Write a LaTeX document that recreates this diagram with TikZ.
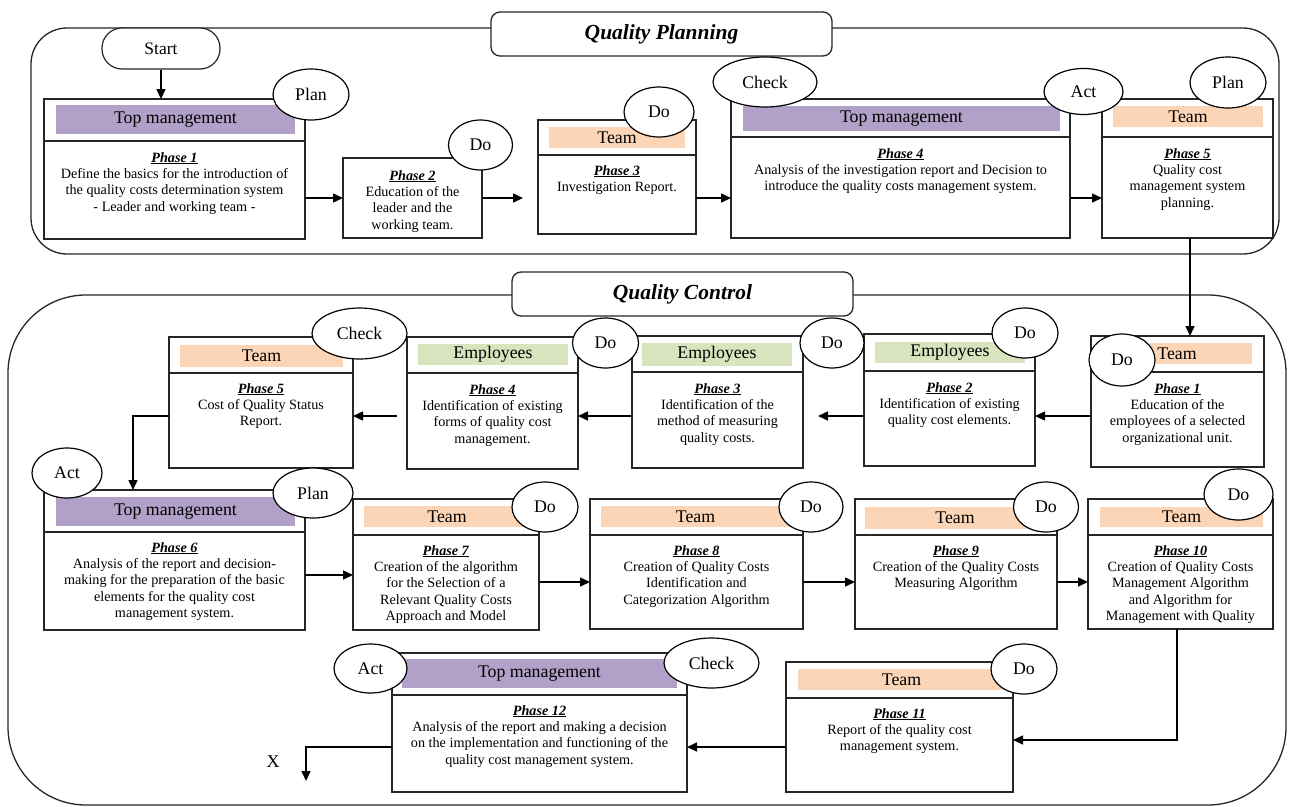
\documentclass[tikz,border=0pt]{standalone}
\usepackage{fontspec}
\setmainfont{Liberation Serif}
\usetikzlibrary{shapes.geometric,arrows.meta}
\definecolor{mgmtc}{HTML}{B1A0C7}
\definecolor{teamc}{HTML}{FBD5B5}
\definecolor{emplc}{HTML}{D7E4BD}
\newcommand{\phs}[1]{\underline{\textbf{\textit{#1}}}}
% name, x1, y1, x2, y2
\newcommand{\pbx}[5]{\node[phasebox, minimum width={#4-#2}, minimum height={#5-#3}] (#1) at (#2,#3) {};}
% name, colour, x1, y1, x2, y2, label
\newcommand{\hdr}[7]{\node[hdrbar, fill=#2, minimum width={#5-#3}, minimum height={#6-#4}] (#1) at ({(#3+#5)/2},{(#4+#6)/2}) {#7};}
% name, cx, cy, rx, ry, label
\newcommand{\pd}[6]{\node[pdca, minimum width={2*#4}, minimum height={2*#5}] (#1) at (#2,#3) {#6};}
% name, x, ytop, text
\newcommand{\btx}[4]{\node[bodytext] (#1) at (#2,#3) {#4};}
\begin{document}
\begin{tikzpicture}[x=1pt, y=-1pt,
  container/.style={draw=black!85, line width=1.3pt, rounded corners=#1, inner sep=0pt, outer sep=0pt, anchor=north west},
  titlebox/.style={draw=black!85, fill=white, line width=1.3pt, rounded corners=9pt, inner sep=0pt, font=\fontsize{21.5}{24}\selectfont\bfseries\itshape},
  startbox/.style={draw=black!85, fill=white, line width=1.2pt, rounded corners=20pt, inner sep=0pt, font=\fontsize{17.5}{20}\selectfont},
  phasebox/.style={draw=black!85, fill=white, line width=1.3pt, anchor=north west, inner sep=0pt, outer sep=0pt},
  divline/.style={draw=black!85, line width=1.3pt},
  hdrbar/.style={draw=none, inner sep=0pt, outer sep=0pt, font=\fontsize{17.8}{20}\selectfont},
  bodytext/.style={anchor=north, align=center, inner sep=0pt, font=\fontsize{14.2}{16.4}\selectfont},
  pdca/.style={ellipse, draw=black, fill=white, line width=1.2pt, inner sep=0pt, font=\fontsize{17.8}{20}\selectfont},
  arr/.style={line width=1.5pt, -{Triangle[length=10pt,width=9pt]}},
  xlabel/.style={inner sep=0pt, font=\fontsize{18}{20}\selectfont}
]
\useasboundingbox (0,0) rectangle (1290,806);

% ---------- containers ----------
\node[container=36pt, minimum width={1279-31}, minimum height={254-28}] (qpframe) at (31,28) {};
\node[container=78pt, minimum width={1286-8}, minimum height={805-295}] (qcframe) at (8,295) {};
\node[titlebox, minimum width={832-491}, minimum height={56-12}] (qptitle) at (661.5,34) {Quality Planning};
\node[titlebox, minimum width={853-512}, minimum height={316-272}] (qctitle) at (682.5,294) {Quality Control};

% ---------- Quality Planning ----------
\node[startbox, minimum width=118, minimum height=41] (start) at (161,48.5) {Start};

\pbx{p1}{44}{99}{305}{239}
\draw[divline] (44,141) -- (305,141);
\hdr{p1h}{mgmtc}{56}{105}{295}{134}{Top management}
\btx{p1t}{174.5}{152}{\phs{Phase 1}\\Define the basics for the introduction of\\the quality costs determination system\\- Leader and working team -}

\pbx{p2}{343}{158}{482}{238}
\btx{p2t}{412.5}{170}{\phs{Phase 2}\\Education of the\\leader and the\\working team.}

\pbx{p3}{538}{120}{696}{234}
\draw[divline] (538,155) -- (696,155);
\hdr{p3h}{teamc}{549}{127}{685}{148}{Team}
\btx{p3t}{617}{165}{\phs{Phase 3}\\Investigation Report.}

\pbx{p4}{731}{99}{1070}{238}
\draw[divline] (731,137) -- (1070,137);
\hdr{p4h}{mgmtc}{743}{106}{1060}{131}{Top management}
\btx{p4t}{900.5}{148}{\phs{Phase 4}\\Analysis of the investigation report and Decision to\\introduce the quality costs management system.}

\pbx{p5}{1102}{99}{1273}{238}
\draw[divline] (1102,137) -- (1273,137);
\hdr{p5h}{teamc}{1113}{106}{1263}{127}{Team}
\btx{p5t}{1187.5}{148}{\phs{Phase 5}\\Quality cost\\management system\\planning.}

% ---------- Quality Control row 1 ----------
\pbx{q1}{1091}{336}{1264}{467}
\draw[divline] (1091,372) -- (1264,372);
\hdr{q1h}{teamc}{1102}{343}{1252}{364}{Team}
\btx{q1t}{1177.5}{383}{\phs{Phase 1}\\Education of the\\employees of a selected\\organizational unit.}

\pbx{q2}{864}{334}{1035}{466}
\draw[divline] (864,371) -- (1035,371);
\hdr{q2h}{emplc}{875}{342}{1025}{363}{Employees}
\btx{q2t}{949.5}{382}{\phs{Phase 2}\\Identification of existing\\quality cost elements.}

\pbx{q3}{632}{336}{803}{468}
\draw[divline] (632,372) -- (803,372);
\hdr{q3h}{emplc}{642}{343}{792}{366}{Employees}
\btx{q3t}{717.5}{383}{\phs{Phase 3}\\Identification of the\\method of measuring\\quality costs.}

\pbx{q4}{407}{337}{578}{469}
\draw[divline] (407,373) -- (578,373);
\hdr{q4h}{emplc}{418}{344}{568}{365}{Employees}
\btx{q4t}{492.5}{384}{\phs{Phase 4}\\Identification of existing\\forms of quality cost\\management.}

\pbx{q5}{169}{337}{353}{468}
\draw[divline] (169,373) -- (353,373);
\hdr{q5h}{teamc}{180}{345}{343}{367}{Team}
\btx{q5t}{261}{383}{\phs{Phase 5}\\Cost of Quality Status\\Report.}

% ---------- Quality Control row 2 ----------
\pbx{q6}{44}{490}{305}{630}
\draw[divline] (44,532) -- (305,532);
\hdr{q6h}{mgmtc}{56}{497}{295}{526}{Top management}
\btx{q6t}{174.5}{542}{\phs{Phase 6}\\Analysis of the report and decision-\\making for the preparation of the basic\\elements for the quality cost\\management system.}

\pbx{q7}{353}{499}{539}{630}
\draw[divline] (353,535) -- (539,535);
\hdr{q7h}{teamc}{364}{506}{530}{527}{Team}
\btx{q7t}{446}{545}{\phs{Phase 7}\\Creation of the algorithm\\for the Selection of a\\Relevant Quality Costs\\Approach and Model}

\pbx{q8}{590}{499}{803}{629}
\draw[divline] (590,535) -- (803,535);
\hdr{q8h}{teamc}{601}{506}{790}{527}{Team}
\btx{q8t}{696.5}{545}{\phs{Phase 8}\\Creation of Quality Costs\\Identification and\\Categorization Algorithm}

\pbx{q9}{855}{499}{1057}{629}
\draw[divline] (855,535) -- (1057,535);
\hdr{q9h}{teamc}{865}{507}{1045}{529}{Team}
\btx{q9t}{956}{545}{\phs{Phase 9}\\Creation of the Quality Costs\\Measuring Algorithm}

\pbx{q10}{1088}{499}{1273}{629}
\draw[divline] (1088,535) -- (1273,535);
\hdr{q10h}{teamc}{1100}{507}{1263}{527}{Team}
\btx{q10t}{1180.5}{545}{\phs{Phase 10}\\Creation of Quality Costs\\Management Algorithm\\and Algorithm for\\Management with Quality}

% ---------- Quality Control row 3 ----------
\pbx{q11}{786}{662}{1013}{792}
\draw[divline] (786,698) -- (1013,698);
\hdr{q11h}{teamc}{798}{669}{1005}{690}{Team}
\btx{q11t}{899.5}{708}{\phs{Phase 11}\\Report of the quality cost\\management system.}

\pbx{q12}{392}{653}{687}{792}
\draw[divline] (392,695) -- (687,695);
\hdr{q12h}{mgmtc}{402}{659}{677}{688}{Top management}
\btx{q12t}{539.5}{705}{\phs{Phase 12}\\Analysis of the report and making a decision\\on the implementation and functioning of the\\quality cost management system.}

\node[xlabel] (xlab) at (273,762) {X};
\coordinate (xend) at (306,781);

% ---------- connectors ----------
\draw[arr] (start.south) -- (start.south |- p1.north);
\draw[arr] (p1.east |- 0,198) -- (p2.west |- 0,198);
\draw[arr, shorten >=15pt] (p2.east |- 0,198) -- (p3.west |- 0,198);
\draw[arr] (p3.east |- 0,198) -- (p4.west |- 0,198);
\draw[arr] (p4.east |- 0,198) -- (p5.west |- 0,198);
\draw[arr] (p5.south -| 1190,0) -- (q1.north -| 1190,0);

\draw[arr] (q1.west |- 0,416) -- (q2.east |- 0,416);
\draw[arr, shorten >=15pt] (q2.west |- 0,416) -- (q3.east |- 0,416);
\draw[arr] (q3.west |- 0,416) -- (q4.east |- 0,416);
\draw[arr, shorten <=10pt] (q4.west |- 0,416) -- (q5.east |- 0,416);
\draw[arr] (q5.west |- 0,416) -| (q6.north -| 133,0);

\draw[arr] (q6.east |- 0,575) -- (q7.west |- 0,575);
\draw[arr] (q7.east |- 0,582) -- (q8.west |- 0,582);
\draw[arr] (q8.east |- 0,582) -- (q9.west |- 0,582);
\draw[arr] (q9.east |- 0,582) -- (q10.west |- 0,582);
\draw[arr] (q10.south -| 1177,0) |- (q11.east |- 0,740);
\draw[arr] (q11.west |- 0,747) -- (q12.east |- 0,747);
\draw[arr] (q12.west |- 0,747) -| (xend);

% ---------- PDCA ellipses ----------
\pd{e1}{311}{94.5}{38}{25.5}{Plan}
\pd{e2}{480.5}{145}{32}{25}{Do}
\pd{e3}{659}{112}{35}{25}{Do}
\pd{e4}{765}{82}{52}{25}{Check}
\pd{e5}{1083.5}{91.5}{39.5}{23}{Act}
\pd{e6}{1228}{82.5}{38}{25.5}{Plan}

\pd{f1}{1122}{360}{33}{26}{Do}
\pd{f2}{1025}{333}{33}{25}{Do}
\pd{f3}{832}{343}{32}{25}{Do}
\pd{f4}{605.5}{343}{33}{25}{Do}
\pd{f5}{359.5}{333.5}{47.5}{25.5}{Check}
\pd{f6}{67}{473}{35}{25}{Act}
\pd{f7}{313}{493}{40}{25}{Plan}
\pd{f8}{545}{507}{33}{25}{Do}
\pd{f9}{811}{507}{32}{25}{Do}
\pd{f10}{1046}{507}{32.5}{25}{Do}
\pd{f11}{1238.5}{494.5}{34.5}{25.5}{Do}
\pd{f12}{1024}{669}{33}{25}{Do}
\pd{f13}{370.5}{668.5}{36.5}{24.5}{Act}
\pd{f14}{711.5}{663}{47.5}{25}{Check}
\end{tikzpicture}
\end{document}
